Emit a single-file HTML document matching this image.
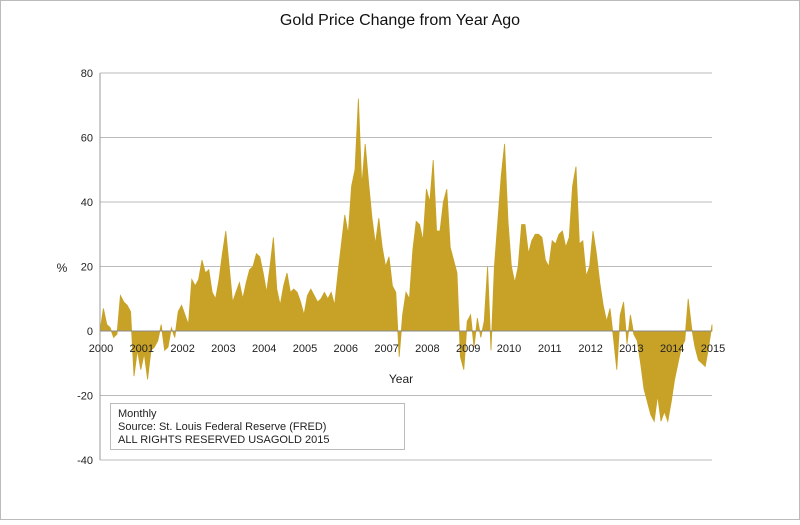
<!DOCTYPE html>
<html><head><meta charset="utf-8"><style>
body{margin:0;background:#fff;font-family:"Liberation Sans",sans-serif}
svg text{font-family:"Liberation Sans",sans-serif}
</style></head><body>
<svg id="chart" width="800" height="520" viewBox="0 0 800 520">
<rect x="0.5" y="0.5" width="799" height="519" fill="#fff" stroke="#bbb"/>
<text x="400" y="25" text-anchor="middle" font-size="16" fill="#111">Gold Price Change from Year Ago</text>
<g id="grid"></g>
<g id="series"></g>
<g id="axes"></g>
<text x="62" y="272" text-anchor="middle" font-size="12" fill="#222">%</text>
<text x="401" y="383" text-anchor="middle" font-size="12" fill="#222">Year</text>
<g>
<rect x="110.5" y="403.5" width="294" height="46" fill="#fff" stroke="#bbb"/>
<text x="118" y="417" font-size="11" fill="#222">Monthly</text>
<text x="118" y="430" font-size="11" fill="#222">Source: St. Louis Federal Reserve (FRED)</text>
<text x="118" y="443" font-size="11" fill="#222">ALL RIGHTS RESERVED USAGOLD 2015</text>
</g>
</svg>
<script>
const startYear = 2000;
const values = [
0,7,2,1,-2,-1,11,9,8,6,-14,-6,
-12,-7,-15,-6,-5,-3,2,-6,-5,1,-2,6,
8,5,2,16,14,16,22,18,19,12,10,16,
24,31,20,9,12,15,10,15,19,20,24,23,
18,12,20,29,13,8,14,18,12,13,12,9,
5,11,13,11,9,10,12,10,12,8,18,27,
36,30,45,50,72,45,58,46,35,27,35,26,
20,23,14,12,-8,5,12,10,25,34,33,28,
44,40,53,31,31,40,44,26,22,18,-8,-12,
3,5,-5,4,-2,3,20,-6,20,34,48,58,
34,20,15,20,33,33,24,28,30,30,29,22,
20,28,27,30,31,26,29,45,51,27,28,17,
20,31,24,15,8,3,7,-2,-12,5,9,-4,
5,-1,-3,-10,-18,-22,-26,-28,-20,-28,-25,-28,
-22,-15,-10,-5,-3,10,1,-5,-9,-10,-11,-5,
2];
const yTicks = [80,60,40,20,0,-20,-40];
const xTicks = [2000,2001,2002,2003,2004,2005,2006,2007,2008,2009,2010,2011,2012,2013,2014,2015];
const NS='http://www.w3.org/2000/svg';
const X0=100,X1=712,Y80=73,Y0=331;
const x = t => X0 + (t-2000)/15*(X1-X0);
const y = v => Y0 - v*(Y0-Y80)/80;
const grid=document.getElementById('grid'),axes=document.getElementById('axes'),series=document.getElementById('series');
yTicks.forEach(v=>{
  const l=document.createElementNS(NS,'line');
  
  
  l.setAttribute('x1',X0);l.setAttribute('x2',X1);l.setAttribute('y1',y(v));l.setAttribute('y2',y(v));
  l.setAttribute('stroke',v===0?'#888':'#bbb');l.setAttribute('stroke-width','1');
  (v===0?axes:grid).appendChild(l);
  const t=document.createElementNS(NS,'text');
  
  
  t.setAttribute('x',93);t.setAttribute('y',y(v)+4);t.setAttribute('text-anchor','end');t.setAttribute('font-size','11');t.setAttribute('fill','#222');
  t.textContent=v;grid.appendChild(t);
});
const ax=document.createElementNS(NS,'line');


ax.setAttribute('x1',X0);ax.setAttribute('x2',X0);ax.setAttribute('y1',y(80));ax.setAttribute('y2',y(-40));ax.setAttribute('stroke','#999');
axes.appendChild(ax);
xTicks.forEach(yr=>{
  const t=document.createElementNS(NS,'text');
  
  
  t.setAttribute('x',x(yr)+1);t.setAttribute('y',352);t.setAttribute('text-anchor','middle');t.setAttribute('font-size','11');t.setAttribute('fill','#222');
  t.textContent=yr;axes.appendChild(t);
});
let d='M'+x(startYear)+','+y(0);
values.forEach((v,i)=>{d+=' L'+x(startYear+i/12).toFixed(2)+','+y(v).toFixed(2);});
d+=' L'+x(startYear+(values.length-1)/12).toFixed(2)+','+y(0)+' Z';
const p=document.createElementNS(NS,'path');


p.setAttribute('d',d);p.setAttribute('fill','#c8a226');p.setAttribute('stroke','#c8a226');p.setAttribute('stroke-width','0.8');
series.appendChild(p);
</script>
</body></html>
